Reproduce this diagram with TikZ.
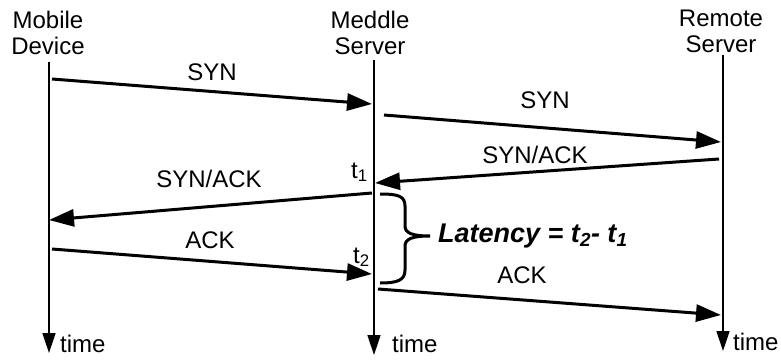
\documentclass[tikz,border=0pt]{standalone}
\usepackage{fontspec}
\setmainfont{Liberation Sans}
\usetikzlibrary{arrows.meta, positioning}
\tikzset{
    lifeline/.style={line width=1.5pt, -{Triangle[length=20pt, width=13pt]}},
    msg/.style={line width=3pt, -{Triangle[length=25pt, width=17pt]}},
    txt/.style={font=\fontsize{24}{26}\selectfont, inner sep=0pt, align=center},
    lbl/.style={txt, anchor=base}
}

\begin{document}
\begin{tikzpicture}[x=1pt, y=-1pt]
                        \useasboundingbox (0, 0) rectangle (781, 361);
                        \node[txt] (mobile) at (48, 33) {Mobile\\Device};
                        \node[txt] (meddle) at (370, 33) {Meddle\\Server};
                        \node[txt] (remote) at (721, 31) {Remote\\Server};
                        \coordinate (mobiletop) at (49, 62);
                        \coordinate (mobilebot) at (49, 353);
                        \coordinate (meddletop) at (374, 60);
                        \coordinate (meddlebot) at (374, 355);
                        \coordinate (remotetop) at (723, 55);
                        \coordinate (remotebot) at (723, 351);
                        \draw[lifeline] (mobiletop) -- (mobilebot);
                        \draw[lifeline] (meddletop) -- (meddlebot);
                        \draw[lifeline] (remotetop) -- (remotebot);
                        \node[lbl, anchor=base west] (mobiletime) at (60, 352) {time};
                        \node[lbl, anchor=base west] (meddletime) at (392, 352) {time};
                        \node[lbl, anchor=base west] (remotetime) at (733, 350) {time};
                        \coordinate (syna) at (52, 79);
                        \coordinate (synb) at (372, 104);
                        \coordinate (sync) at (384, 115);
                        \coordinate (synd) at (721, 142);
                        \coordinate (ackc) at (719, 159);
                        \coordinate (ackd) at (375, 183);
                        \coordinate (acka) at (372, 193);
                        \coordinate (ackb) at (49, 220);
                        \coordinate (fina) at (52, 249);
                        \coordinate (finb) at (372, 274);
                        \coordinate (finc) at (378, 289);
                        \coordinate (find) at (721, 315);
                        \draw[msg] (syna) -- (synb);
                        \draw[msg] (sync) -- (synd);
                        \draw[msg] (ackc) -- (ackd);
                        \draw[msg] (acka) -- (ackb);
                        \draw[msg] (fina) -- (finb);
                        \draw[msg] (finc) -- (find);
                        \node[lbl] (synlabela) at (212, 80) {SYN};
                        \node[lbl] (synlabelb) at (545, 108) {SYN};
                        \node[lbl] (acklabelb) at (535, 163) {SYN/ACK};
                        \node[lbl] (acklabela) at (209, 187) {SYN/ACK};
                        \node[lbl] (finlabela) at (210, 248) {ACK};
                        \node[lbl] (finlabelb) at (522, 283) {ACK};
                        \node[lbl, anchor=base west] (tone) at (351, 178) {t\textsubscript{1}};
                        \node[lbl, anchor=base west] (ttwo) at (353, 263) {t\textsubscript{2}};
                        \draw[line width=3pt]
                        (380, 194) .. controls (398, 194) and (405, 196) .. (405, 206)
                        -- (405, 226) .. controls (405, 233) and (412, 236) .. (430, 236)
                        .. controls (412, 236) and (405, 239) .. (405, 246)
                        -- (405, 270) .. controls (405, 280) and (398, 283) .. (380, 283);
                        \node[txt, anchor=base west, font=\fontsize{27}{30}\selectfont\bfseries\itshape] (latency) at (438, 242)
                        {Latency = t\textsubscript{2}- t\textsubscript{1}};
                    \end{tikzpicture}
\end{document}
